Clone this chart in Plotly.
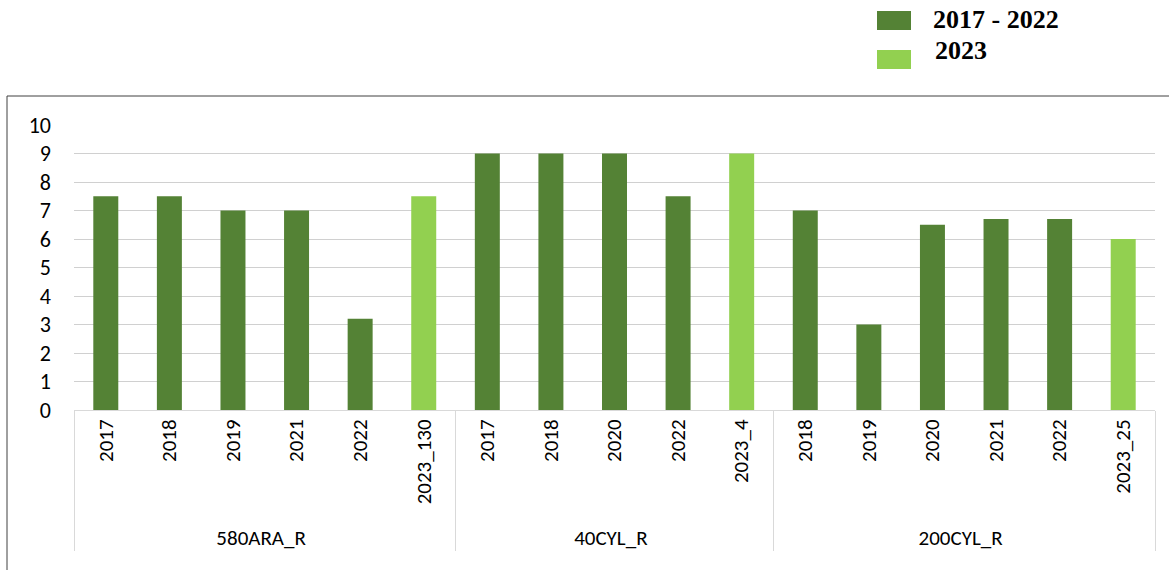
import plotly.graph_objects as go

# ---- data -------------------------------------------------------------
sites = ["580ARA_R"] * 6 + ["40CYL_R"] * 5 + ["200CYL_R"] * 6
years = ["2017", "2018", "2019", "2021", "2022", "2023_130",
         "2017", "2018", "2020", "2022", "2023_4",
         "2018", "2019", "2020", "2021", "2022", "2023_25"]
values = [7.5, 7.5, 7.0, 7.0, 3.2, 7.5,
          9.0, 9.0, 9.0, 7.5, 9.0,
          7.0, 3.0, 6.5, 6.7, 6.7, 6.0]
series_names = ["2017 - 2022", "2023"]
series_colors = ["#548235", "#92D050"]
y_ticks = list(range(0, 11))

# ---- layout constants (page pixels) ------------------------------------
W, H = 1169, 570
PLOT_L, PLOT_R, PLOT_T, PLOT_B = 74, 1155, 125, 410
ML, MT = PLOT_L, PLOT_T
MR, MB = W - PLOT_R, H - PLOT_B
PW, PH = PLOT_R - PLOT_L, PLOT_B - PLOT_T
FONT = "Carlito, Calibri, Lato, sans-serif"


def px_x(p):
    return (p - PLOT_L) / PW


def px_y(q):
    return (PLOT_B - q) / PH


fig = go.Figure()
for s, (name, color) in enumerate(zip(series_names, series_colors)):
    idx = [i for i in range(len(values)) if years[i].startswith("2023") == (s == 1)]
    # plotly orders multicategory inner labels by first appearance;
    # feeding them sorted keeps every group in chronological order
    idx.sort(key=lambda i: years[i])
    fig.add_trace(go.Bar(
        x=[[sites[i] for i in idx], [years[i] for i in idx]],
        y=[values[i] for i in idx],
        name=name,
        marker=dict(color=color, line=dict(width=0)),
        showlegend=False,
    ))

# custom legend (large swatches like the original)
legend_rows = [(11, 30, 931, 20), (50, 69, 933, 50)]
for (name, color), (y0, y1, xt, yt) in zip(zip(series_names, series_colors), legend_rows):
    fig.add_shape(type="rect", xref="paper", yref="paper",
                  x0=px_x(877), x1=px_x(911), y0=px_y(y1), y1=px_y(y0),
                  fillcolor=color, line=dict(width=0))
    fig.add_annotation(xref="paper", yref="paper", x=px_x(xt), y=px_y(yt),
                       xanchor="left", yanchor="middle", showarrow=False,
                       text="<b>%s</b>" % name,
                       font=dict(family="Liberation Serif, Times New Roman, serif",
                                 size=26, color="black"))

# chart frame
fig.add_shape(type="rect", xref="paper", yref="paper",
              x0=px_x(7), x1=px_x(1185), y0=px_y(590), y1=px_y(96),
              line=dict(color="#404040", width=1), fillcolor="rgba(0,0,0,0)",
              layer="below")

fig.update_layout(
    width=W, height=H,
    margin=dict(l=ML, r=MR, t=MT, b=MB),
    paper_bgcolor="white", plot_bgcolor="white",
    barmode="overlay", bargap=0.607,
    font=dict(family=FONT, size=21, color="black"),
    xaxis=dict(type="multicategory", tickangle=-90, showline=True,
               linecolor="#d9d9d9", linewidth=1, ticks="", showgrid=False,
               showdividers=True, dividercolor="#d9d9d9", dividerwidth=1,
               tickfont=dict(family=FONT, size=21, color="black")),
    yaxis=dict(range=[0, 10], tickvals=y_ticks, showgrid=True,
               gridcolor="#d0d0d0", gridwidth=1, zeroline=False,
               showline=False, ticks="", ticklabelstandoff=22,
               tickfont=dict(family=FONT, size=22, color="black")),
)

# remove the browser's default 8px body margin so the figure fills the window
fig.write_html("out.html", config={"displayModeBar": False},
               post_script="document.body.style.margin='0';")
